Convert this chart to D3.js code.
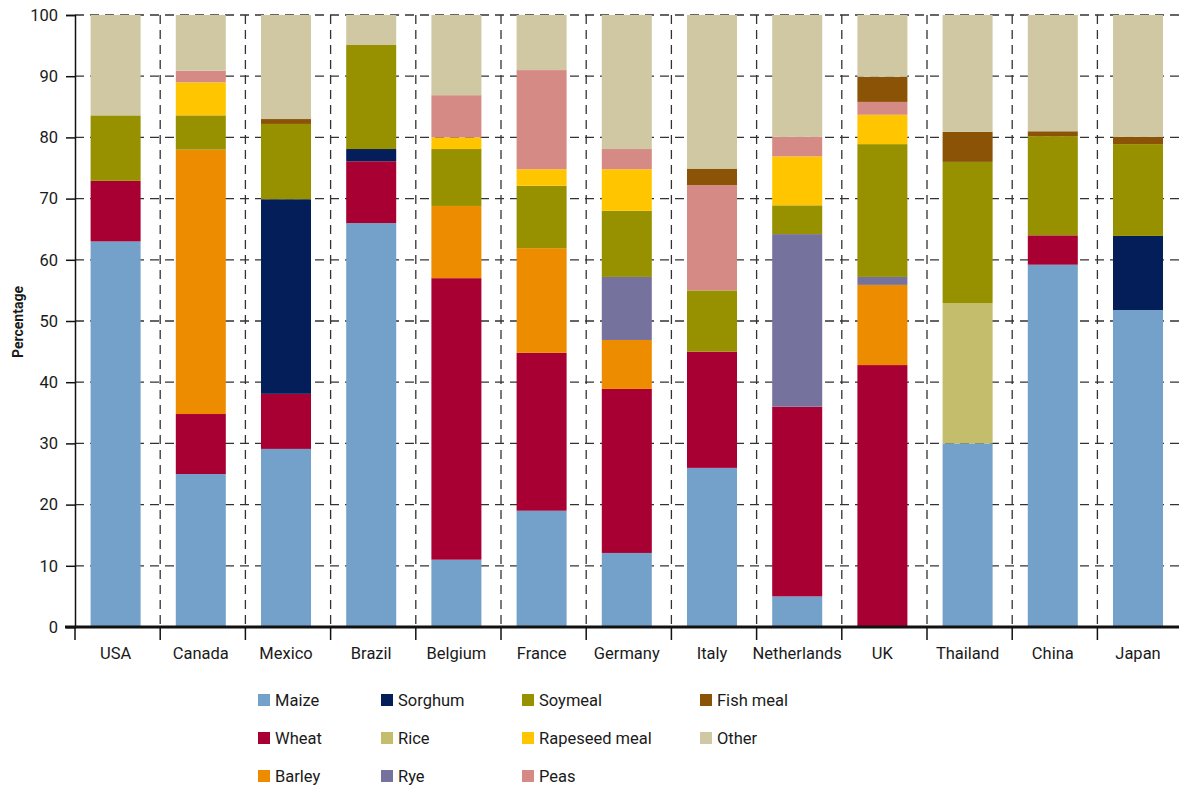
<!DOCTYPE html>
<html lang="en">
  <head>
    <meta charset="utf-8">
    <title>Feed composition by country</title>
    <script src="https://cdn.jsdelivr.net/npm/d3@7"></script>
    <style>
      body { margin: 0; background: #fff; }
      text { font-family: Roboto, "DejaVu Sans", sans-serif; fill: #1a1a1a; }
    </style>
  </head>
  <body>
    <script>
      // chart size
      var w = 1179;
      var h = 787;

      // categories
      var countries = ["USA", "Canada", "Mexico", "Brazil", "Belgium", "France", "Germany",
                       "Italy", "Netherlands", "UK", "Thailand", "China", "Japan"];

      // series values (percent)
      var maize    = [63, 25, 29.1, 66, 11, 19, 12.1, 26, 5, 0, 30, 59.2, 51.8];
      var wheat    = [9.9, 9.8, 9, 10.1, 46, 25.8, 26.8, 19, 31, 42.8, 0, 4.8, 0];
      var barley   = [0, 43.2, 0, 0, 11.8, 17.1, 8, 0, 0, 13.1, 0, 0, 0];
      var sorghum  = [0, 0, 31.8, 2, 0, 0, 0, 0, 0, 0, 0, 0, 12.1];
      var rice     = [0, 0, 0, 0, 0, 0, 0, 0, 0, 0, 22.9, 0, 0];
      var rye      = [0, 0, 0, 0, 0, 0, 10.3, 0, 28.2, 1.3, 0, 0, 0];
      var soymeal  = [10.7, 5.6, 12.3, 17, 9.3, 10.2, 10.8, 10, 4.7, 21.7, 23.1, 16.2, 15];
      var rapeseed = [0, 5.4, 0, 0, 1.9, 2.7, 6.8, 0, 8, 4.8, 0, 0, 0];
      var peas     = [0, 1.9, 0, 0, 6.9, 16.2, 3.3, 17.2, 3.2, 2.1, 0, 0, 0];
      var fishmeal = [0, 0, 0.8, 0, 0, 0, 0, 2.7, 0, 4.1, 4.9, 0.8, 1.2];
      var other    = [16.4, 9.1, 17, 4.9, 13.1, 9, 21.9, 25.1, 19.9, 10.1, 19.1, 19, 19.9];

      var yTicks = [0, 10, 20, 30, 40, 50, 60, 70, 80, 90, 100];

      // stacking order bottom to top
      var seriesNames = ["Maize", "Wheat", "Barley", "Sorghum", "Rice", "Rye", "Soymeal",
                         "Rapeseed meal", "Peas", "Fish meal", "Other"];
      var seriesValues = [maize, wheat, barley, sorghum, rice, rye, soymeal,
                          rapeseed, peas, fishmeal, other];
      var colors = {
        "Maize": "#74a1c9", "Wheat": "#a80032", "Barley": "#ee8c00", "Sorghum": "#041e5a",
        "Rice": "#c3bd6c", "Rye": "#76729e", "Soymeal": "#979100", "Rapeseed meal": "#ffc600",
        "Peas": "#d68a85", "Fish meal": "#8b5306", "Other": "#d0c8a2"
      };

      // legend is filled column by column
      var legendOrder = ["Maize", "Wheat", "Barley", "Sorghum", "Rice", "Rye",
                         "Soymeal", "Rapeseed meal", "Peas", "Fish meal", "Other"];

      // build rows for d3.stack
      var table = countries.map(function(c, i) {
        var row = { country: c };
        seriesNames.forEach(function(s, j) { row[s] = seriesValues[j][i]; });
        return row;
      });
      var stacked = d3.stack().keys(seriesNames)(table);

      var plotLeft = 75, plotTop = 15, plotBottom = 627;
      var step = 85.2;

      // bars sit a touch left of the band centre in the original
      var xScale = d3.scaleBand()
        .domain(countries)
        .range([plotLeft - 2, plotLeft - 2 + step * countries.length])
        .paddingInner(0.413)
        .paddingOuter(0.2065);

      var yScale = d3.scaleLinear()
        .domain([0, 100])
        .range([plotBottom, plotTop]);

      var svg = d3.select("body").append("svg")
        .attr("width", w)
        .attr("height", h);

      // horizontal dashed gridlines
      svg.append("g").selectAll("line")
        .data(yTicks.filter(function(d) { return d > 0; }))
        .enter().append("line")
        .attr("x1", plotLeft).attr("x2", w)
        .attr("y1", function(d) { return yScale(d); })
        .attr("y2", function(d) { return yScale(d); })
        .attr("stroke", "#333")
        .attr("stroke-width", 1.3)
        .attr("stroke-dasharray", "9,6");

      // vertical dashed gridlines between countries
      var bounds = d3.range(1, countries.length + 1).map(function(i) { return plotLeft + step * i; });
      svg.append("g").selectAll("line")
        .data(bounds)
        .enter().append("line")
        .attr("x1", function(d) { return d; })
        .attr("x2", function(d) { return d; })
        .attr("y1", plotTop).attr("y2", plotBottom)
        .attr("stroke", "#333")
        .attr("stroke-width", 1.3)
        .attr("stroke-dasharray", "9,6");

      // bars
      svg.append("g").selectAll("g")
        .data(stacked)
        .enter().append("g")
        .attr("fill", function(d) { return colors[d.key]; })
        .selectAll("rect")
        .data(function(d) { return d; })
        .enter().append("rect")
        .attr("x", function(d) { return xScale(d.data.country); })
        .attr("y", function(d) { return yScale(d[1]); })
        .attr("width", xScale.bandwidth())
        .attr("height", function(d) { return yScale(d[0]) - yScale(d[1]); });

      // y axis
      var yAxis = d3.axisLeft(yScale).tickValues(yTicks).tickSize(9).tickPadding(8);
      var gy = svg.append("g")
        .attr("transform", "translate(" + plotLeft + ",0)")
        .call(yAxis);
      gy.select(".domain").attr("stroke", "#111").attr("stroke-width", 1.5);
      gy.selectAll(".tick line").attr("stroke", "#111").attr("stroke-width", 1.5);
      gy.selectAll(".tick text")
        .attr("font-size", "16.5px")
        .attr("font-family", "Roboto, sans-serif")
        .attr("fill", "#1a1a1a");

      // x axis ticks, baseline and labels
      var gx = svg.append("g");
      gx.selectAll("line")
        .data([plotLeft].concat(bounds))
        .enter().append("line")
        .attr("x1", function(d) { return d; })
        .attr("x2", function(d) { return d; })
        .attr("y1", plotBottom).attr("y2", plotBottom + 13)
        .attr("stroke", "#111")
        .attr("stroke-width", 1.5);
      gx.append("line")
        .attr("x1", 65).attr("x2", w)
        .attr("y1", plotBottom).attr("y2", plotBottom)
        .attr("stroke", "#111")
        .attr("stroke-width", 3);
      gx.selectAll("text")
        .data(countries)
        .enter().append("text")
        .attr("x", function(d) { return xScale(d) + xScale.bandwidth() / 2; })
        .attr("y", 659)
        .attr("text-anchor", "middle")
        .attr("font-size", "16.5px")
        .text(function(d) { return d; });

      // y axis title
      svg.append("text")
        .attr("transform", "translate(23,322) rotate(-90)")
        .attr("text-anchor", "middle")
        .attr("font-size", "14px")
        .attr("font-weight", "bold")
        .text("Percentage");

      // legend
      var legendX = [258, 381, 522, 700];
      var legendY = [700, 738, 776];
      var legend = svg.append("g").selectAll("g")
        .data(legendOrder)
        .enter().append("g")
        .attr("transform", function(d, i) {
          return "translate(" + legendX[Math.floor(i / 3)] + "," + legendY[i % 3] + ")";
        });
      legend.append("rect")
        .attr("x", 0).attr("y", -6)
        .attr("width", 12).attr("height", 12)
        .attr("fill", function(d) { return colors[d]; });
      legend.append("text")
        .attr("x", 17).attr("y", 6)
        .attr("font-size", "16.5px")
        .text(function(d) { return d; });
    </script>
  </body>
</html>
